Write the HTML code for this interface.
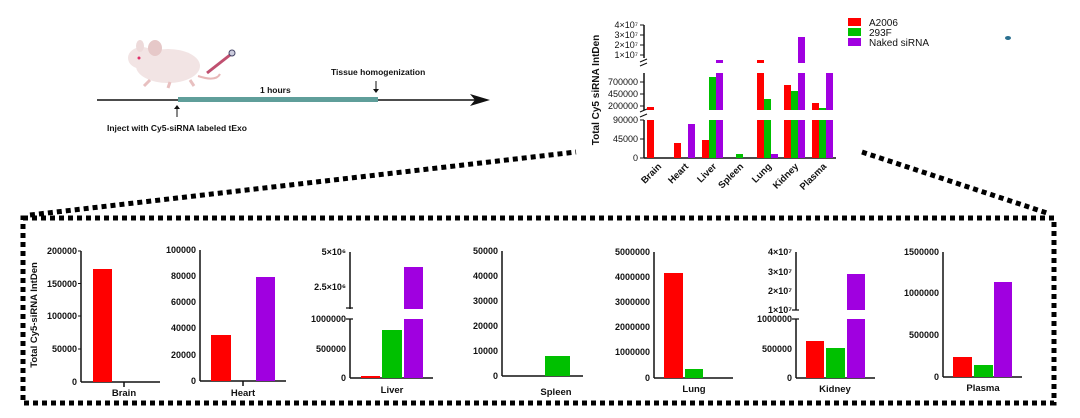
<!DOCTYPE html>
<html><head><meta charset="utf-8"><style>
html,body{margin:0;padding:0;background:#fff}
svg{display:block}
text{font-family:"Liberation Sans",Arial,sans-serif;font-weight:bold;fill:#111}
.t{font-size:9px;text-anchor:end}
.a{stroke:#111;stroke-width:1.5;fill:none}
</style></head><body>
<svg width="1080" height="418" viewBox="0 0 1080 418" xmlns="http://www.w3.org/2000/svg">
<!-- schematic -->
<g>
<ellipse cx="168" cy="66" rx="32" ry="17" fill="#f2e4e4"/>
<ellipse cx="142" cy="58" rx="14" ry="11" fill="#f2e4e4"/>
<ellipse cx="155" cy="48" rx="7" ry="8" fill="#e6c8c8"/>
<ellipse cx="140" cy="46" rx="4" ry="6" fill="#eddada"/>
<circle cx="139" cy="58" r="1.5" fill="#e0306a"/>
<path d="M198 76 q18 6 22 -2" stroke="#e8b8b8" stroke-width="2" fill="none"/>
<path d="M150 80 l-6 6 M170 82 l-2 6 M190 80 l4 6" stroke="#e8c0c0" stroke-width="3"/>
<line x1="207" y1="73" x2="230" y2="55" stroke="#c05070" stroke-width="3"/>
<circle cx="232" cy="53" r="3" fill="#ccd" stroke="#446" stroke-width="1"/>
<line x1="97" y1="100" x2="480" y2="100" stroke="#111" stroke-width="1.5"/>
<path d="M470 94 L490 100 L470 106 L475 100 Z" fill="#111"/>
<rect x="178" y="97" width="200" height="5" fill="#5f9e9a"/>
<line x1="177" y1="117" x2="177" y2="107" stroke="#111" stroke-width="1"/>
<path d="M174 109 L177 105 L180 109 Z" fill="#111"/>
<line x1="376" y1="81" x2="376" y2="91" stroke="#111" stroke-width="1"/>
<path d="M373 89 L376 93 L379 89 Z" fill="#111"/>
<text x="107" y="131" style="font-size:8.5px">Inject with Cy5-siRNA labeled tExo</text>
<text x="260" y="93" style="font-size:8.5px">1 hours</text>
<text x="331" y="75" style="font-size:8.5px">Tissue homogenization</text>
</g>
<ellipse cx="1008" cy="38" rx="3" ry="2" fill="#2a6f8f"/>

<!-- top chart -->
<g>
<text transform="translate(599,90) rotate(-90)" style="font-size:10px;text-anchor:middle">Total Cy5 siRNA IntDen</text>
<line class="a" x1="644" y1="25" x2="644" y2="58"/>
<line class="a" x1="644" y1="73" x2="644" y2="110"/>
<line class="a" x1="644" y1="120" x2="644" y2="158"/>
<line class="a" x1="644" y1="158" x2="836" y2="158"/>
<path d="M640 62 l7 -3 M640 66 l7 -3 M640 112 l7 -3 M640 117 l7 -3" stroke="#111" stroke-width="1.2"/>
<g class="a" style="stroke-width:1">
<line x1="640" y1="25" x2="644" y2="25"/><line x1="640" y1="35" x2="644" y2="35"/><line x1="640" y1="45" x2="644" y2="45"/><line x1="640" y1="55" x2="644" y2="55"/>
<line x1="640" y1="82" x2="644" y2="82"/><line x1="640" y1="94" x2="644" y2="94"/><line x1="640" y1="106" x2="644" y2="106"/>
<line x1="640" y1="120" x2="644" y2="120"/><line x1="640" y1="139" x2="644" y2="139"/><line x1="640" y1="158" x2="644" y2="158"/>
</g>
<g class="t" style="font-size:9px;font-weight:normal">
<text class="t" x="638" y="28" style="font-weight:normal">4×10⁷</text>
<text class="t" x="638" y="38" style="font-weight:normal">3×10⁷</text>
<text class="t" x="638" y="48" style="font-weight:normal">2×10⁷</text>
<text class="t" x="638" y="58" style="font-weight:normal">1×10⁷</text>
<text class="t" x="638" y="85" style="font-weight:normal">700000</text>
<text class="t" x="638" y="97" style="font-weight:normal">450000</text>
<text class="t" x="638" y="109" style="font-weight:normal">200000</text>
<text class="t" x="638" y="123" style="font-weight:normal">90000</text>
<text class="t" x="638" y="142" style="font-weight:normal">45000</text>
<text class="t" x="638" y="161" style="font-weight:normal">0</text>
</g>
<!-- bars: red, green, purple -->
<g fill="#ff0000">
<rect x="647" y="120" width="7" height="38"/><rect x="647" y="107" width="7" height="3"/>
<rect x="674" y="143" width="7" height="15"/>
<rect x="702" y="140" width="7" height="18"/>
<rect x="757" y="120" width="7" height="38"/><rect x="757" y="73" width="7" height="37"/><rect x="757" y="60" width="7" height="3"/>
<rect x="784" y="120" width="7" height="38"/><rect x="784" y="85" width="7" height="25"/>
<rect x="812" y="120" width="7" height="38"/><rect x="812" y="103" width="7" height="7"/>
</g>
<g fill="#00c000">
<rect x="709" y="120" width="7" height="38"/><rect x="709" y="77" width="7" height="33"/>
<rect x="736" y="154" width="7" height="4"/>
<rect x="764" y="120" width="7" height="38"/><rect x="764" y="99" width="7" height="11"/>
<rect x="791" y="120" width="7" height="38"/><rect x="791" y="91" width="7" height="19"/>
<rect x="819" y="120" width="7" height="38"/><rect x="819" y="108" width="7" height="2"/>
</g>
<g fill="#a000e0">
<rect x="688" y="124" width="7" height="34"/>
<rect x="716" y="120" width="7" height="38"/><rect x="716" y="73" width="7" height="37"/><rect x="716" y="60" width="7" height="3"/>
<rect x="771" y="154" width="7" height="4"/>
<rect x="798" y="120" width="7" height="38"/><rect x="798" y="73" width="7" height="37"/><rect x="798" y="37" width="7" height="26"/>
<rect x="826" y="120" width="7" height="38"/><rect x="826" y="73" width="7" height="37"/>
</g>
<g style="font-size:9.5px;text-anchor:end">
<text transform="translate(662,167) rotate(-45)" style="text-anchor:end">Brain</text>
<text transform="translate(689,167) rotate(-45)" style="text-anchor:end">Heart</text>
<text transform="translate(717,167) rotate(-45)" style="text-anchor:end">Liver</text>
<text transform="translate(744,167) rotate(-45)" style="text-anchor:end">Spleen</text>
<text transform="translate(772,167) rotate(-45)" style="text-anchor:end">Lung</text>
<text transform="translate(799,167) rotate(-45)" style="text-anchor:end">Kidney</text>
<text transform="translate(827,167) rotate(-45)" style="text-anchor:end">Plasma</text>
</g>
<rect x="848" y="18" width="13" height="8" fill="#ff0000"/>
<rect x="848" y="28" width="13" height="8" fill="#00c000"/>
<rect x="848" y="38" width="13" height="8" fill="#a000e0"/>
<text x="869" y="26" style="font-size:10px;font-weight:normal">A2006</text>
<text x="869" y="36" style="font-size:10px;font-weight:normal">293F</text>
<text x="869" y="46" style="font-size:10px;font-weight:normal">Naked siRNA</text>
</g>

<!-- dotted connectors and box -->
<g stroke="#000" stroke-width="5" fill="none" stroke-dasharray="5 4">
<line x1="30" y1="215" x2="576" y2="152"/>
<line x1="862" y1="152" x2="1050" y2="214"/>
<rect x="23" y="218" width="1031" height="185"/>
</g>

<!-- bottom panels -->
<text transform="translate(37,315) rotate(-90)" style="font-size:9.5px;text-anchor:middle">Total Cy5-siRNA IntDen</text>
<g style="font-size:8.5px">
<!-- Brain -->
<line class="a" x1="81" y1="251" x2="81" y2="382"/><line class="a" x1="81" y1="382" x2="160" y2="382"/>
<line class="a" x1="124" y1="382" x2="124" y2="387"/>
<text class="t" x="77" y="254">200000</text><text class="t" x="77" y="287">150000</text><text class="t" x="77" y="319">100000</text><text class="t" x="77" y="352">50000</text><text class="t" x="77" y="385">0</text>
<path class="a" style="stroke-width:1" d="M78 251h3M78 283.5h3M78 316h3M78 349h3"/>
<rect x="93" y="269" width="19" height="113" fill="#ff0000"/>
<text x="124" y="396" style="text-anchor:middle;font-size:9.5px">Brain</text>
<!-- Heart -->
<line class="a" x1="200" y1="250" x2="200" y2="381"/><line class="a" x1="200" y1="381" x2="286" y2="381"/>
<line class="a" x1="243" y1="381" x2="243" y2="386"/>
<text class="t" x="196" y="253">100000</text><text class="t" x="196" y="279">80000</text><text class="t" x="196" y="305">60000</text><text class="t" x="196" y="331">40000</text><text class="t" x="196" y="358">20000</text><text class="t" x="196" y="384">0</text>
<rect x="211" y="335" width="20" height="46" fill="#ff0000"/>
<rect x="256" y="277" width="19" height="104" fill="#a000e0"/>
<text x="243" y="396" style="text-anchor:middle;font-size:9.5px">Heart</text>
<!-- Liver -->
<line class="a" x1="350" y1="252" x2="350" y2="309"/><line class="a" x1="350" y1="319" x2="350" y2="378"/><line class="a" x1="350" y1="378" x2="433" y2="378"/>
<path d="M346 308h7M346 319h7" stroke="#111" stroke-width="1.2"/>
<text class="t" x="346" y="255">5×10⁶</text><text class="t" x="346" y="290">2.5×10⁶</text><text class="t" x="346" y="322">1000000</text><text class="t" x="346" y="352">500000</text><text class="t" x="346" y="381">0</text>
<rect x="361" y="376" width="19" height="2" fill="#ff0000"/>
<rect x="382" y="330" width="20" height="48" fill="#00c000"/>
<rect x="404" y="267" width="19" height="42" fill="#a000e0"/><rect x="404" y="319" width="19" height="59" fill="#a000e0"/>
<text x="392" y="393" style="text-anchor:middle;font-size:9.5px">Liver</text>
<!-- Spleen -->
<line class="a" x1="502" y1="251" x2="502" y2="376"/><line class="a" x1="502" y1="376" x2="583" y2="376"/>
<text class="t" x="498" y="254">50000</text><text class="t" x="498" y="279">40000</text><text class="t" x="498" y="304">30000</text><text class="t" x="498" y="329">20000</text><text class="t" x="498" y="354">10000</text><text class="t" x="498" y="379">0</text>
<rect x="545" y="356" width="25" height="20" fill="#00c000"/>
<text x="556" y="395" style="text-anchor:middle;font-size:9.5px">Spleen</text>
<!-- Lung -->
<line class="a" x1="654" y1="252" x2="654" y2="378"/><line class="a" x1="654" y1="378" x2="733" y2="378"/>
<text class="t" x="650" y="255">5000000</text><text class="t" x="650" y="280">4000000</text><text class="t" x="650" y="305">3000000</text><text class="t" x="650" y="330">2000000</text><text class="t" x="650" y="355">1000000</text><text class="t" x="650" y="381">0</text>
<rect x="664" y="273" width="19" height="105" fill="#ff0000"/>
<rect x="685" y="369" width="18" height="9" fill="#00c000"/>
<text x="694" y="392" style="text-anchor:middle;font-size:9.5px">Lung</text>
<!-- Kidney -->
<line class="a" x1="796" y1="252" x2="796" y2="310"/><line class="a" x1="796" y1="319" x2="796" y2="378"/><line class="a" x1="796" y1="378" x2="875" y2="378"/>
<path d="M792 310h7M792 319h7" stroke="#111" stroke-width="1.2"/>
<text class="t" x="792" y="255">4×10⁷</text><text class="t" x="792" y="275">3×10⁷</text><text class="t" x="792" y="294">2×10⁷</text><text class="t" x="792" y="313">1×10⁷</text><text class="t" x="792" y="322">1000000</text><text class="t" x="792" y="352">500000</text><text class="t" x="792" y="381">0</text>
<rect x="806" y="341" width="18" height="37" fill="#ff0000"/>
<rect x="826" y="348" width="19" height="30" fill="#00c000"/>
<rect x="847" y="274" width="18" height="36" fill="#a000e0"/><rect x="847" y="319" width="18" height="59" fill="#a000e0"/>
<text x="835" y="392" style="text-anchor:middle;font-size:9.5px">Kidney</text>
<!-- Plasma -->
<line class="a" x1="943" y1="252" x2="943" y2="377"/><line class="a" x1="943" y1="377" x2="1022" y2="377"/>
<text class="t" x="939" y="255">1500000</text><text class="t" x="939" y="296">1000000</text><text class="t" x="939" y="338">500000</text><text class="t" x="939" y="380">0</text>
<rect x="953" y="357" width="19" height="20" fill="#ff0000"/>
<rect x="974" y="365" width="19" height="12" fill="#00c000"/>
<rect x="994" y="282" width="18" height="95" fill="#a000e0"/>
<text x="983" y="391" style="text-anchor:middle;font-size:9.5px">Plasma</text>
</g>
</svg>
</body></html>
